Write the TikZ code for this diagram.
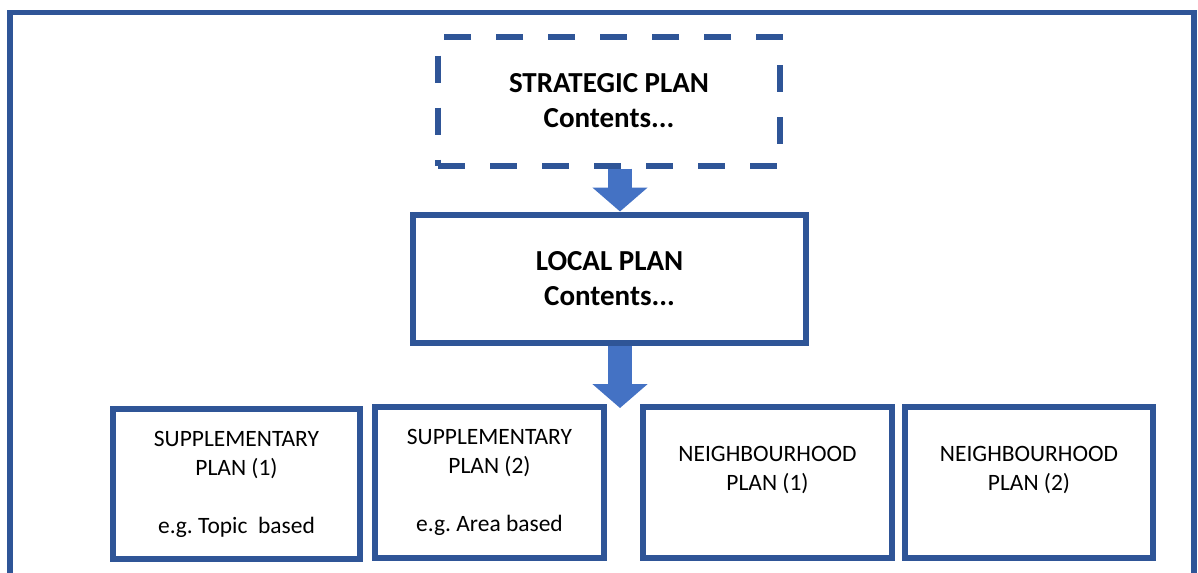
\documentclass[tikz,border=0pt]{standalone}
\usepackage{fontspec}
\setmainfont{Carlito}
\usepackage{tikz}
\usetikzlibrary{arrows.meta}

\definecolor{planblue}{RGB}{47,85,151}
\definecolor{arrowblue}{RGB}{68,114,196}

\tikzset{
  plan/.style={draw=planblue, line width=4.5pt, rectangle, align=center, inner sep=0pt,
    font=\fontsize{21.75}{26.25}\selectfont\bfseries},
  subplan/.style={draw=planblue, line width=4.5pt, rectangle, align=center, inner sep=0pt,
    font=\fontsize{17.6}{21.75}\selectfont},
  flow/.style={draw=arrowblue, line width=18pt, -{Triangle[length=18pt, width=40.5pt]}}
}

\begin{document}
\begin{tikzpicture}[x=0.75pt,y=0.75pt,yscale=-1,xscale=1]
\useasboundingbox (0,0) rectangle (1198,572);

%Outer frame, open at the bottom
\draw [planblue, line width=4.25pt] (10,580) -- (10,12.5) -- (1194,12.5) -- (1194,580) ;

%Upper plans
\node [plan, dash pattern=on 20.25pt off 18.75pt, minimum width=256.5pt, minimum height=96.75pt] (strategic) at (609,101) {STRATEGIC PLAN\\Contents...};
\node [plan, minimum width=294.75pt, minimum height=96pt] (local) at (609.5,278.5) {LOCAL PLAN\\Contents...};

%Lower plans
\node [subplan, minimum width=185.25pt, minimum height=112.5pt] (supp1) at (236.5,484) {SUPPLEMENTARY\\PLAN (1)\\[21.75pt]e.g.\ Topic\ \ based};
\node [subplan, minimum width=171.75pt, minimum height=113.25pt] (supp2) at (489.5,482.5) {SUPPLEMENTARY\\PLAN (2)\\[21.75pt]e.g.\ Area based};
\node [subplan, minimum width=186.75pt, minimum height=113.25pt] (neigh1) at (767.5,482.5) {NEIGHBOURHOOD\\PLAN (1)\\\mbox{}};
\node [subplan, minimum width=186pt, minimum height=113.25pt] (neigh2) at (1029,482.5) {NEIGHBOURHOOD\\PLAN (2)\\\mbox{}};

%Block arrows
\coordinate (tip) at (620,408);
\draw [flow] (strategic.south -| tip) -- (local.north -| tip) ;
\draw [flow] (local.south -| tip) -- (tip) ;

\end{tikzpicture}
\end{document}
